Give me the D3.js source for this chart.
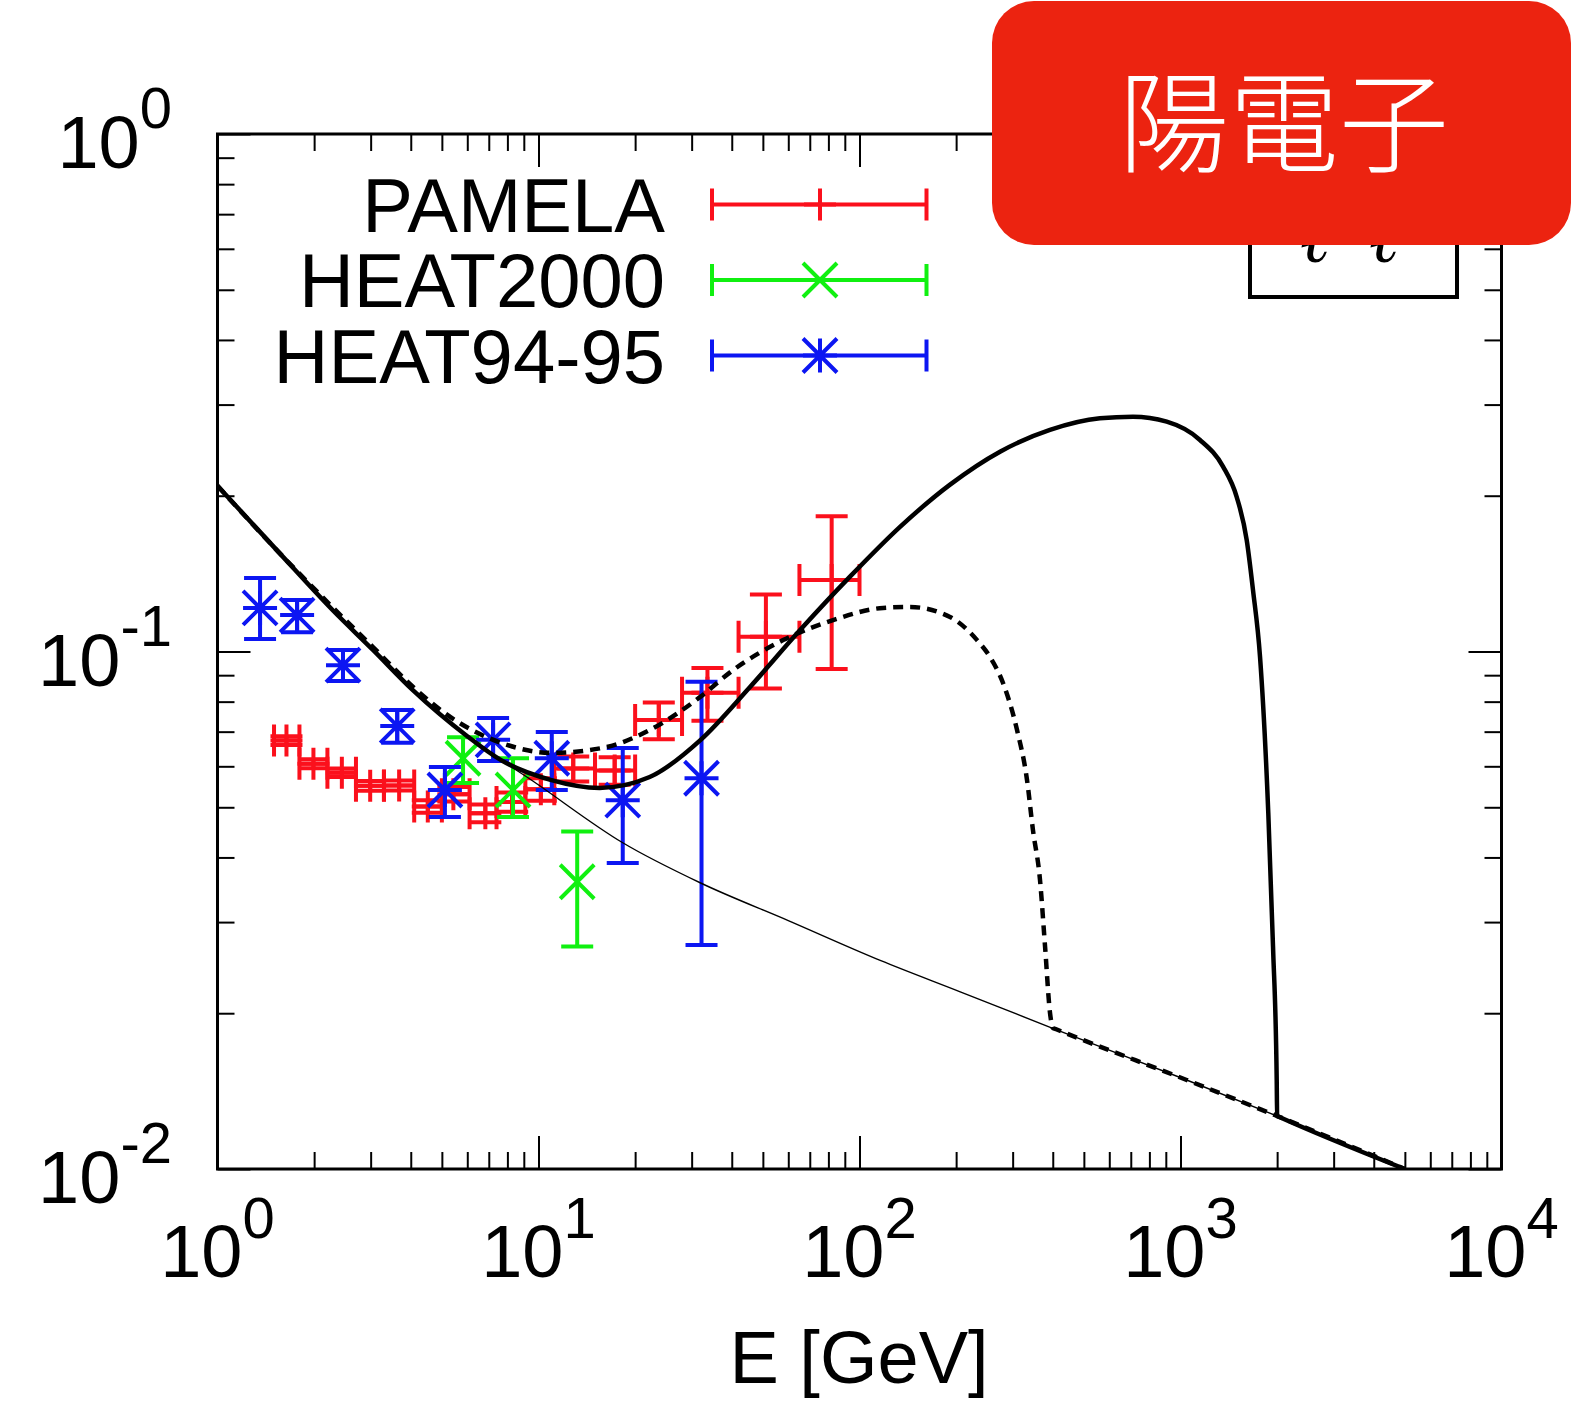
<!DOCTYPE html>
<html>
<head>
<meta charset="utf-8">
<script src="https://cdn.jsdelivr.net/npm/d3@7"></script>
<style>
  body { margin: 0; background: #fff; }
  svg { display: block; }
</style>
</head>
<body>
<script>
// PAMELA positron fraction (bins + values)
const pamelaE   = [1.64, 1.99, 2.44, 2.99, 3.68, 4.52, 5.43, 6.83, 8.28, 10.17, 12.83, 17.27, 23.7, 33.6, 51.1, 81.9];
const pamelaLo  = [1.5, 1.8, 2.2, 2.7, 3.3, 4.1, 5.0, 6.1, 7.4, 9.1, 11.2, 15.0, 20.0, 28.0, 42.0, 65.0];
const pamelaHi  = [1.8, 2.2, 2.7, 3.3, 4.1, 5.0, 6.1, 7.4, 9.1, 11.2, 15.0, 20.0, 28.0, 42.0, 65.0, 100.0];
const pamelaF   = [0.0673, 0.0607, 0.0583, 0.0550, 0.0551, 0.0502, 0.0530, 0.0487, 0.0512, 0.0542, 0.0594, 0.0589, 0.0737, 0.0832, 0.1068, 0.1375];
const pamelaErr = [0.0013, 0.0012, 0.0011, 0.0012, 0.0012, 0.0014, 0.0017, 0.0019, 0.0022, 0.0027, 0.0033, 0.0036, 0.0060, 0.0097, 0.022, 0.045];

// HEAT2000
const heat00E  = [5.82, 8.33, 13.2];
const heat00F  = [0.0622, 0.054, 0.0359];
const heat00Lo = [0.0557, 0.0479, 0.0269];
const heat00Hi = [0.0683, 0.0622, 0.0449];

// HEAT94-95
const heat94E  = [1.357, 1.77, 2.46, 3.63, 5.11, 7.22, 11.0, 18.3, 32.2];
const heat94F  = [0.1214, 0.1176, 0.0941, 0.0718, 0.054, 0.0675, 0.0622, 0.0516, 0.0569];
const heat94Lo = [0.1057, 0.109, 0.0877, 0.0666, 0.0479, 0.0614, 0.054, 0.039, 0.0271];
const heat94Hi = [0.1387, 0.1257, 0.1007, 0.0771, 0.0598, 0.0744, 0.0699, 0.0651, 0.0874];

// model curves
const bgE = [1, 1.53, 2.29, 3.05, 4.06, 6.0, 9.6, 18.3, 32, 60, 116, 206, 400, 1045, 2000, 5000];
const bgF = [0.209, 0.157, 0.120, 0.1007, 0.0842, 0.0684, 0.0562, 0.0427, 0.0357, 0.0302, 0.0253, 0.022, 0.0187, 0.01486, 0.01266, 0.01];

const solidE = [1, 1.53, 2.29, 3.05, 4.06, 6.0, 7.6, 10.9, 15.5, 22.2, 32, 45.6, 65.3, 93.4, 134, 191, 274, 392, 561, 711, 906, 1150, 1357, 1496, 1608, 1682, 1769, 1877, 1942, 1994, 2000, 2040, 5000];
const solidF = [0.209, 0.157, 0.120, 0.1007, 0.0842, 0.0686, 0.0618, 0.0565, 0.0545, 0.0572, 0.0675, 0.0854, 0.110, 0.1395, 0.1743, 0.2099, 0.2433, 0.268, 0.2822, 0.2842, 0.278, 0.2563, 0.2276, 0.199, 0.1642, 0.1315, 0.0977, 0.0488, 0.0269, 0.01486, 0.01266, 0.01259, 0.01];

const dashE = [1, 1.53, 2.29, 3.05, 4.06, 5.42, 7.7, 10.9, 15.8, 22.2, 31.9, 40.4, 57.8, 82.7, 118.4, 143.6, 191.4, 232.4, 255, 280, 309.6, 332.5, 347, 365, 378.5, 392.3, 400.6, 410, 1045, 2000, 5000];
const dashF = [0.209, 0.157, 0.1215, 0.102, 0.0855, 0.0741, 0.0665, 0.0637, 0.0651, 0.0705, 0.0817, 0.0921, 0.1052, 0.115, 0.1214, 0.1219, 0.1166, 0.1052, 0.0976, 0.0869, 0.0705, 0.0565, 0.0452, 0.0362, 0.0269, 0.02, 0.01873, 0.01862, 0.01486, 0.01266, 0.01];

const xMajor = [1, 10, 100, 1000, 10000];
const yMajor = [0.01, 0.1, 1];
const legendNames = ['PAMELA', 'HEAT2000', 'HEAT94-95'];

const RED = '#fb101c', GREEN = '#10f010', BLUE = '#0c16f2';
const FONT = '"Liberation Sans", Arial, Helvetica, sans-serif';

const W = 1579, H = 1401;
const padL = 217.5, padR = 1501.5, padT = 134, padB = 1169;

const svg = d3.select('body').append('svg')
  .attr('width', W).attr('height', H)
  .style('background', '#fff');

const x = d3.scaleLog().domain([1, 1e4]).range([padL, padR]);
const y = d3.scaleLog().domain([0.01, 1]).range([padB, padT]);

const xMinor = x.ticks().filter(d => !xMajor.includes(d));
const yMinor = y.ticks().filter(d => !yMajor.some(m => Math.abs(m - d) < 1e-9));

// inward ticks on all four sides
function ticks(axisFn, scale, vals, size, tr) {
  svg.append('g').attr('transform', tr)
    .call(axisFn(scale).tickValues(vals).tickSize(-size).tickFormat(''))
    .call(g => g.select('.domain').remove())
    .selectAll('line').attr('stroke', '#000').attr('stroke-width', 2);
}
ticks(d3.axisBottom, x, xMajor, 33, `translate(0,${padB})`);
ticks(d3.axisBottom, x, xMinor, 17, `translate(0,${padB})`);
ticks(d3.axisTop, x, xMajor, 33, `translate(0,${padT})`);
ticks(d3.axisTop, x, xMinor, 17, `translate(0,${padT})`);
ticks(d3.axisLeft, y, yMajor, 33, `translate(${padL},0)`);
ticks(d3.axisLeft, y, yMinor, 17, `translate(${padL},0)`);
ticks(d3.axisRight, y, yMajor, 33, `translate(${padR},0)`);
ticks(d3.axisRight, y, yMinor, 17, `translate(${padR},0)`);

// tick labels with superscripts
svg.selectAll('.xlab').data(xMajor).join('text')
  .attr('x', d => x(d)).attr('y', 1277)
  .attr('text-anchor', 'middle').attr('font-family', FONT).attr('font-size', 74)
  .each(function (d) {
    const t = d3.select(this);
    t.append('tspan').text('10');
    t.append('tspan').attr('dy', -39).attr('font-size', 58).text(Math.round(Math.log10(d)));
  });

svg.selectAll('.ylab').data(yMajor).join('text')
  .attr('x', 172).attr('y', d => y(d) + 34)
  .attr('text-anchor', 'end').attr('font-family', FONT).attr('font-size', 74)
  .each(function (d) {
    const t = d3.select(this);
    t.append('tspan').text('10');
    t.append('tspan').attr('dy', -40).attr('font-size', 58).text(Math.round(Math.log10(d)));
  });

svg.append('text')
  .attr('x', 859).attr('y', 1383)
  .attr('text-anchor', 'middle').attr('font-family', FONT).attr('font-size', 74)
  .text('E [GeV]');

// frame
svg.append('rect')
  .attr('x', padL).attr('y', padT).attr('width', padR - padL).attr('height', padB - padT)
  .attr('fill', 'none').attr('stroke', '#000').attr('stroke-width', 3);

// plot clip
svg.append('clipPath').attr('id', 'plot')
  .append('rect').attr('x', padL).attr('y', padT).attr('width', padR - padL).attr('height', padB - padT);
const plot = svg.append('g').attr('clip-path', 'url(#plot)');

// marker shapes
const S = 17, CAP = 16;
const plus = s => `M${-s},0h${2 * s}M0,${-s}v${2 * s}`;
const cross = s => `M${-s},${-s}L${s},${s}M${-s},${s}L${s},${-s}`;
const star = s => plus(s) + cross(s);

function yErrPath(cx, y0, y1) {
  return `M${cx},${y0}V${y1}M${cx - CAP},${y0}h${2 * CAP}M${cx - CAP},${y1}h${2 * CAP}`;
}
function xErrPath(cy, x0, x1) {
  return `M${x0},${cy}H${x1}M${x0},${cy - CAP}v${2 * CAP}M${x1},${cy - CAP}v${2 * CAP}`;
}

const dataLayer = plot.append('g').attr('fill', 'none').attr('stroke-width', 4);

// PAMELA: x and y error bars, plus marker
const gPam = dataLayer.append('g').attr('stroke', RED);
gPam.selectAll('path.eb').data(d3.range(pamelaE.length)).join('path').attr('class', 'eb')
  .attr('d', i => xErrPath(y(pamelaF[i]), x(pamelaLo[i]), x(pamelaHi[i])) +
    yErrPath(x(pamelaE[i]), y(pamelaF[i] + pamelaErr[i]), y(pamelaF[i] - pamelaErr[i])));
gPam.selectAll('path.mk').data(d3.range(pamelaE.length)).join('path').attr('class', 'mk')
  .attr('transform', i => `translate(${x(pamelaE[i])},${y(pamelaF[i])})`)
  .attr('d', plus(16));

// HEAT2000: y error bars, cross marker
const g00 = dataLayer.append('g').attr('stroke', GREEN);
g00.selectAll('path.eb').data(d3.range(heat00E.length)).join('path').attr('class', 'eb')
  .attr('d', i => yErrPath(x(heat00E[i]), y(heat00Hi[i]), y(heat00Lo[i])));
g00.selectAll('path.mk').data(d3.range(heat00E.length)).join('path').attr('class', 'mk')
  .attr('transform', i => `translate(${x(heat00E[i])},${y(heat00F[i])})`)
  .attr('d', cross(S));

// HEAT94-95: y error bars, star marker
const g94 = dataLayer.append('g').attr('stroke', BLUE);
g94.selectAll('path.eb').data(d3.range(heat94E.length)).join('path').attr('class', 'eb')
  .attr('d', i => yErrPath(x(heat94E[i]), y(heat94Hi[i]), y(heat94Lo[i])));
g94.selectAll('path.mk').data(d3.range(heat94E.length)).join('path').attr('class', 'mk')
  .attr('transform', i => `translate(${x(heat94E[i])},${y(heat94F[i])})`)
  .attr('d', star(S));

// model curves
const line = d3.line().x(d => x(d[0])).y(d => y(d[1])).curve(d3.curveMonotoneX);
plot.append('path').datum(d3.zip(bgE, bgF))
  .attr('d', line).attr('fill', 'none').attr('stroke', '#000').attr('stroke-width', 1.4);
plot.append('path').datum(d3.zip(dashE, dashF))
  .attr('d', line).attr('fill', 'none').attr('stroke', '#000').attr('stroke-width', 4.5)
  .attr('stroke-dasharray', '10,7');
plot.append('path').datum(d3.zip(solidE, solidF))
  .attr('d', line).attr('fill', 'none').attr('stroke', '#000').attr('stroke-width', 4.5)
  .attr('stroke-linejoin', 'round');

// legend
const legY = [204.5, 280, 355.5];
const legColors = [RED, GREEN, BLUE];
const legMarks = [plus(16), cross(S), star(S)];
const leg = svg.append('g');
legendNames.forEach((name, i) => {
  leg.append('text').attr('x', 665).attr('y', legY[i] + 27)
    .attr('text-anchor', 'end').attr('font-family', FONT).attr('font-size', 76)
    .text(name);
  leg.append('path').attr('d', xErrPath(legY[i], 712, 926.5))
    .attr('fill', 'none').attr('stroke', legColors[i]).attr('stroke-width', 4);
  leg.append('path').attr('transform', `translate(820,${legY[i]})`).attr('d', legMarks[i])
    .attr('fill', 'none').attr('stroke', legColors[i]).attr('stroke-width', 4);
});

// model box partly hidden behind the badge
svg.append('rect').attr('x', 1250).attr('y', 150).attr('width', 207).attr('height', 147)
  .attr('fill', '#fff').attr('stroke', '#000').attr('stroke-width', 4);
svg.selectAll('.ell').data([1315, 1384]).join('text')
  .attr('x', d => d).attr('y', 262).attr('text-anchor', 'middle')
  .attr('font-family', '"DejaVu Serif", serif').attr('font-style', 'italic').attr('font-size', 72)
  .text('\u2113');

// red badge
svg.append('rect').attr('x', 992).attr('y', 1).attr('width', 579).attr('height', 244)
  .attr('rx', 42).attr('fill', '#ec2310');
svg.append('text').attr('x', 1284).attr('y', 116)
  .attr('text-anchor', 'middle').attr('dominant-baseline', 'central')
  .attr('font-family', '"Noto Sans CJK JP", sans-serif').attr('font-weight', 300).attr('font-size', 110)
  .attr('fill', '#fff').text('陽電子');
</script>
</body>
</html>
